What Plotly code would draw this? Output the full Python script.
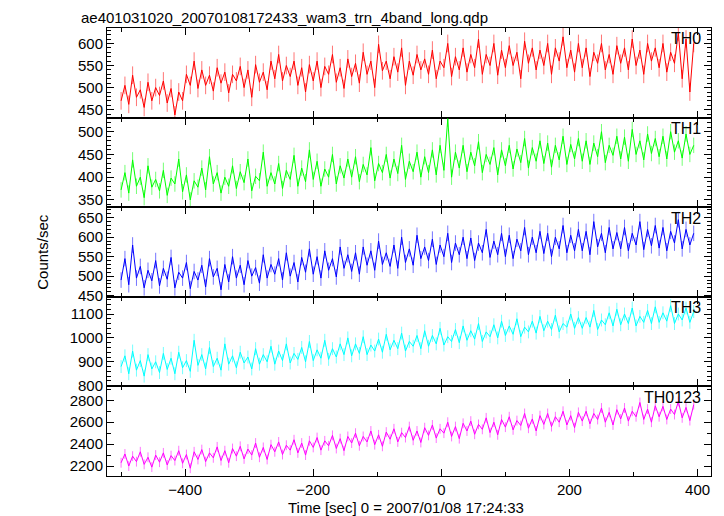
import plotly.graph_objects as go
from plotly.subplots import make_subplots

# time bins (sec from 2007/01/08 17:24:33)
time_sec = list(range(-500, 400, 6))

th0 = [470, 505, 462, 528, 478, 495, 455, 512, 470, 500,
       482, 515, 465, 498, 438, 490, 470, 530, 505, 560,
       498, 540, 505, 528, 492, 545, 510, 535, 488, 530,
       515, 548, 500, 540, 478, 552, 512, 535, 495, 560,
       520, 575, 515, 550, 525, 560, 505, 545, 490, 552,
       515, 560, 500, 548, 530, 575, 512, 545, 498, 565,
       525, 555, 510, 580, 530, 560, 500, 598, 538, 560,
       520, 570, 535, 590, 505, 560, 528, 575, 540, 565,
       530, 585, 520, 560, 545, 600, 525, 570, 540, 590,
       535, 575, 545, 610, 530, 575, 550, 600, 528, 585,
       545, 595, 550, 580, 520, 605, 555, 590, 540, 585,
       550, 600, 530, 590, 560, 615, 545, 585, 535, 600,
       545, 590, 525, 580, 555, 600, 540, 575, 530, 595,
       555, 590, 540, 610, 550, 585, 530, 600, 560, 590,
       545, 600, 535, 580, 555, 625, 520, 610, 490, 600]

th1 = [372, 410, 365, 438, 380, 400, 355, 425, 378, 395,
       370, 415, 360, 398, 385, 440, 368, 405, 350, 392,
       378, 420, 372, 445, 385, 410, 365, 400, 380, 425,
       375, 412, 388, 440, 370, 402, 392, 455, 380, 410,
       385, 430, 375, 415, 395, 448, 380, 420, 390, 460,
       395, 435, 380, 418, 400, 450, 385, 425, 398, 440,
       400, 445, 390, 428, 405, 465, 392, 430, 410, 450,
       398, 440, 408, 470, 395, 435, 412, 455, 400, 445,
       410, 460, 405, 470, 415, 528, 400, 455, 420, 470,
       412, 455, 425, 478, 410, 450, 428, 465, 405, 460,
       425, 470, 418, 462, 432, 485, 420, 465, 435, 480,
       430, 475, 422, 470, 438, 490, 428, 472, 440, 485,
       435, 480, 428, 475, 445, 500, 432, 470, 448, 490,
       440, 488, 435, 505, 450, 480, 438, 495, 452, 485,
       445, 490, 440, 500, 455, 480, 442, 495, 450, 470]

th2 = [490, 545, 478, 580, 495, 525, 470, 515, 488, 540,
       475, 520, 492, 548, 470, 510, 495, 535, 468, 512,
       490, 528, 472, 545, 498, 520, 465, 530, 485, 550,
       495, 528, 478, 540, 500, 522, 482, 555, 495, 530,
       505, 545, 490, 560, 500, 535, 485, 548, 510, 570,
       505, 550, 495, 565, 515, 545, 498, 575, 520, 555,
       512, 560, 505, 575, 528, 565, 515, 590, 530, 560,
       525, 580, 520, 600, 535, 570, 528, 605, 545, 575,
       540, 595, 530, 580, 550, 610, 535, 585, 555, 600,
       545, 598, 540, 585, 560, 620, 548, 590, 555, 610,
       550, 605, 545, 595, 565, 625, 555, 600, 560, 615,
       558, 610, 550, 600, 570, 630, 560, 605, 565, 620,
       565, 615, 555, 640, 575, 610, 560, 625, 570, 612,
       570, 625, 565, 610, 580, 640, 568, 620, 578, 630,
       572, 625, 565, 615, 585, 645, 570, 620, 580, 610]

th3 = [880, 925, 850, 945, 865, 905, 840, 930, 870, 900,
       855, 935, 868, 915, 850, 940, 875, 905, 860, 990,
       885, 930, 870, 960, 880, 915, 865, 975, 890, 925,
       875, 940, 895, 920, 870, 955, 890, 930, 900, 965,
       890, 945, 905, 975, 895, 935, 910, 960, 900, 985,
       905, 950, 915, 990, 910, 955, 920, 975, 930, 1000,
       925, 975, 935, 1005, 930, 970, 945, 995, 940, 1015,
       950, 990, 955, 1020, 945, 985, 965, 1010, 955, 1030,
       965, 1010, 975, 1040, 970, 1005, 985, 1035, 980, 1050,
       990, 1030, 995, 1060, 985, 1025, 1005, 1055, 1000, 1070,
       1010, 1050, 1015, 1080, 1005, 1045, 1025, 1070, 1020, 1090,
       1030, 1070, 1035, 1095, 1025, 1060, 1045, 1100, 1040, 1085,
       1040, 1085, 1045, 1115, 1035, 1075, 1055, 1105, 1050, 1120,
       1055, 1100, 1060, 1125, 1050, 1090, 1065, 1115, 1060, 1130,
       1065, 1105, 1070, 1135, 1060, 1100, 1075, 1125, 1065, 1110]

th0123 = [2230, 2310, 2200, 2290, 2240, 2330, 2215, 2280, 2190, 2300,
          2235, 2320, 2210, 2295, 2250, 2340, 2225, 2305, 2180, 2330,
          2260, 2350, 2240, 2320, 2275, 2375, 2250, 2340, 2230, 2360,
          2290, 2380, 2265, 2355, 2300, 2410, 2280, 2370, 2260, 2395,
          2330, 2420, 2305, 2390, 2345, 2440, 2320, 2410, 2300, 2430,
          2370, 2460, 2345, 2430, 2385, 2480, 2360, 2450, 2340, 2470,
          2410, 2500, 2385, 2470, 2420, 2520, 2395, 2485, 2380, 2510,
          2445, 2540, 2420, 2505, 2460, 2560, 2435, 2520, 2415, 2550,
          2480, 2575, 2455, 2540, 2500, 2600, 2470, 2560, 2450, 2590,
          2520, 2610, 2490, 2580, 2535, 2640, 2505, 2600, 2485, 2625,
          2555, 2650, 2530, 2615, 2570, 2680, 2545, 2630, 2520, 2660,
          2580, 2680, 2560, 2650, 2600, 2700, 2575, 2660, 2550, 2690,
          2610, 2700, 2585, 2680, 2625, 2730, 2600, 2690, 2575, 2715,
          2630, 2730, 2610, 2700, 2650, 2780, 2625, 2720, 2600, 2750,
          2650, 2745, 2625, 2720, 2670, 2790, 2640, 2735, 2615, 2760]

# typical statistical error (counts/sec) per band, read from the light error-bar band
errors = [20, 17, 20, 27, 45]

series = [th0, th1, th2, th3, th0123]
labels = ["TH0", "TH1", "TH2", "TH3", "TH0123"]
colors = ["#ff0000", "#00ff00", "#0000ff", "#00ffff", "#ff00ff"]
err_colors = ["rgba(255,0,0,0.55)", "rgba(0,255,0,0.55)", "rgba(0,0,255,0.55)",
              "rgba(0,255,255,0.55)", "rgba(255,0,255,0.55)"]
y_ranges = [[432, 635], [334, 531], [447, 677], [797, 1172], [2109, 2927]]
y_dticks = [50, 50, 50, 100, 200]
y_minor = [10, 10, 10, 20, 100]

FONT = "Liberation Sans, Arial, Helvetica, sans-serif"

fig = make_subplots(rows=5, cols=1, shared_xaxes=True, vertical_spacing=0)

for i, (ys, lab, col) in enumerate(zip(series, labels, colors)):
    fig.add_trace(go.Scatter(x=time_sec, y=ys, mode="lines", name=lab,
                             line=dict(color=col, width=1),
                             error_y=dict(type="constant", value=errors[i], width=0,
                                          thickness=1, color=err_colors[i])),
                  row=i + 1, col=1)

for i in range(5):
    fig.update_yaxes(row=i + 1, col=1, range=y_ranges[i], dtick=y_dticks[i],
                     showline=True, linecolor="black", linewidth=1, mirror="allticks",
                     ticks="inside", ticklen=7, tickcolor="black", tickwidth=1,
                     minor=dict(ticks="inside", dtick=y_minor[i], ticklen=4,
                                tickcolor="black", tickwidth=1),
                     showgrid=False, zeroline=False,
                     tickfont=dict(family=FONT, size=15, color="black"))
    fig.update_xaxes(row=i + 1, col=1, range=[-522, 421], dtick=200,
                     showline=True, linecolor="black", linewidth=1, mirror="allticks",
                     ticks="inside", ticklen=7, tickcolor="black", tickwidth=1,
                     minor=dict(ticks="inside", dtick=100, ticklen=4,
                                tickcolor="black", tickwidth=1),
                     showgrid=False, zeroline=False,
                     showticklabels=(i == 4),
                     tickfont=dict(family=FONT, size=15, color="black"))

# panel labels
for i, lab in enumerate(labels):
    yref = "y domain" if i == 0 else f"y{i + 1} domain"
    fig.add_annotation(text=lab, xref="x domain", yref=yref, x=0.987, y=0.995,
                       xanchor="right", yanchor="top", showarrow=False,
                       font=dict(family=FONT, size=16, color="black"))

fig.add_annotation(text="ae401031020_20070108172433_wam3_trn_4band_long.qdp",
                   xref="paper", yref="paper", x=-0.046, y=1.0, xanchor="left",
                   yanchor="bottom", yshift=0, showarrow=False,
                   font=dict(family=FONT, size=15, color="black"))
fig.add_annotation(text="Counts/sec", xref="paper", yref="paper", x=-0.108, y=0.5,
                   xanchor="center", yanchor="middle", textangle=-90, showarrow=False,
                   font=dict(family=FONT, size=15, color="black"))
fig.add_annotation(text="Time [sec] 0 = 2007/01/08 17:24:33", xref="paper", yref="paper",
                   x=0.495, y=0, yshift=-21, xanchor="center", yanchor="top", showarrow=False,
                   font=dict(family=FONT, size=15, color="black"))

fig.update_layout(width=724, height=516, showlegend=False,
                  margin=dict(l=107, r=13, t=28, b=40),
                  plot_bgcolor="white", paper_bgcolor="white",
                  font=dict(family=FONT, size=15, color="black"))

fig.write_html("out.html", config={"displayModeBar": False},
               post_script="document.body.style.margin='0px';")
